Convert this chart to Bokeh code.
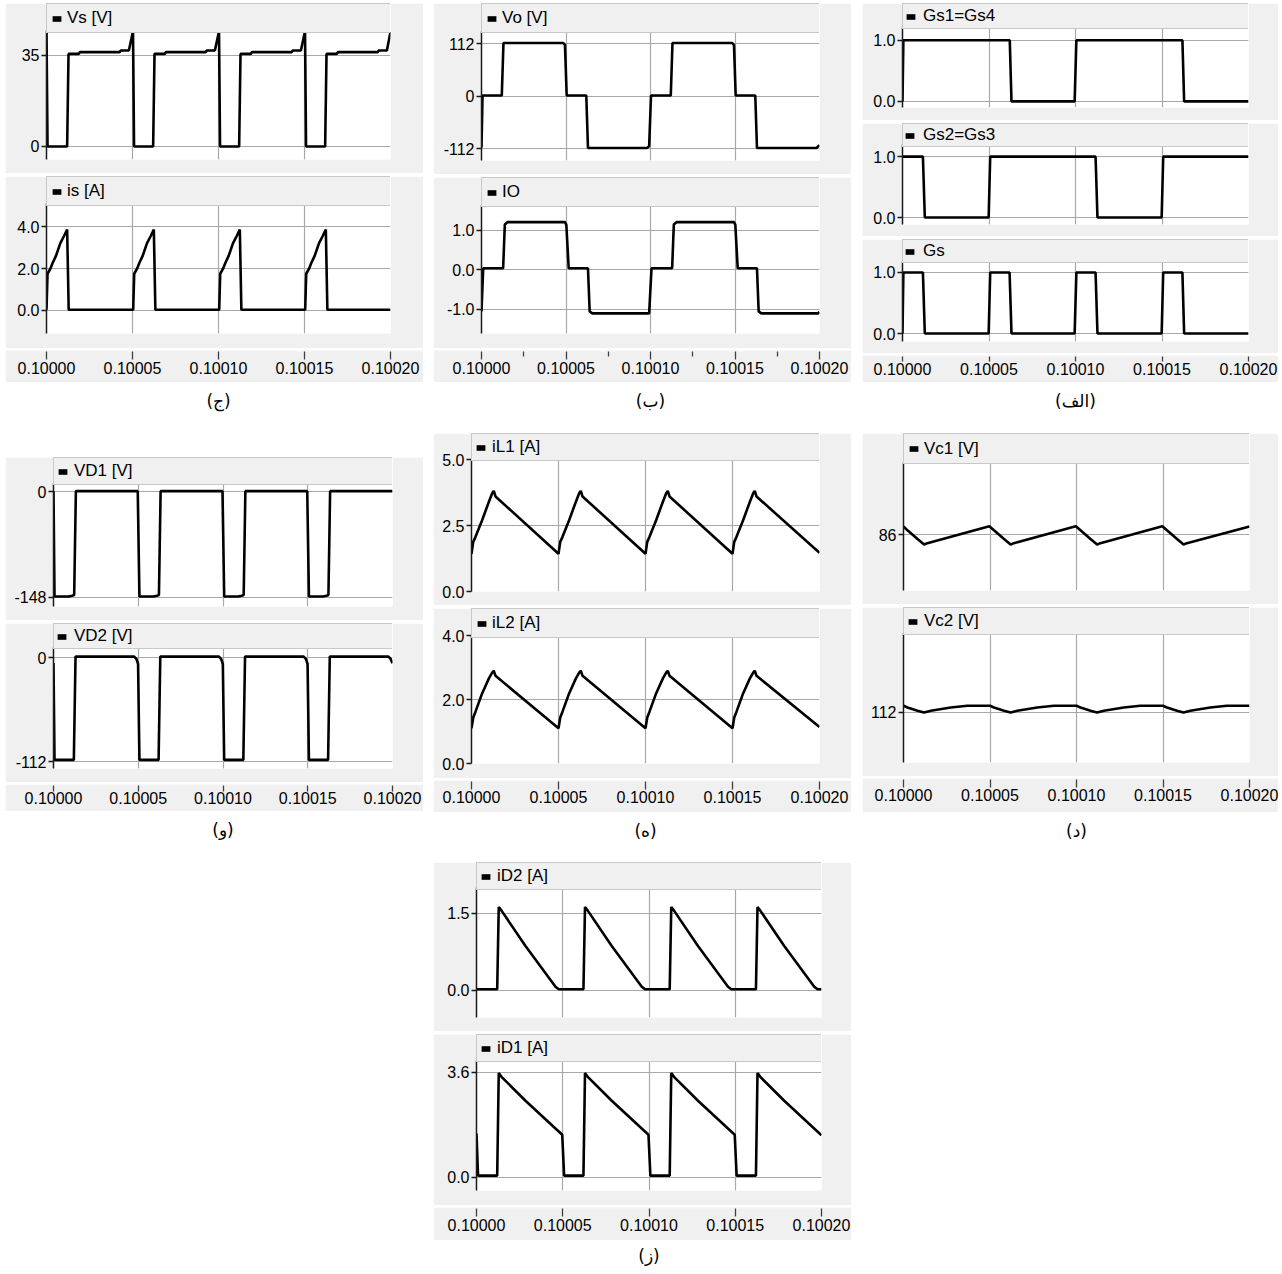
import numpy as np
from bokeh.plotting import figure
from bokeh.models import (Range1d, FixedTicker, Legend, LegendItem, Plot, Label, Spacer)
from bokeh.layouts import column, row
from bokeh.embed import file_html
from bokeh.resources import INLINE

# ---------------- data ----------------
T0 = 0.1  # seconds; all series times are microseconds after T0
x_ticks = [0.1, 0.10005, 0.1001, 0.10015, 0.1002]
x_tick_labels = ["0.10000", "0.10005", "0.10010", "0.10015", "0.10020"]
x_minor_ticks = [0.100025, 0.100075, 0.100125, 0.100175]

captions = ["(ج)", "(ب)", "(الف)", "(و)", "(ه)", "(د)", "(ز)"]

# (ج) input voltage / current
vs_t = [0, 0.6, 12.0, 12.8, 18.8, 19.4, 42.6, 43.2, 47.9, 50.3, 50.9,
        62.0, 62.8, 68.8, 69.4, 92.6, 93.2, 97.9, 100.3, 100.9,
        112.0, 112.8, 118.8, 119.4, 142.6, 143.2, 147.9, 150.3, 150.9,
        162.0, 162.8, 168.8, 169.4, 192.6, 193.2, 197.9, 200.0]
vs_v = [44.3, 0, 0, 35.6, 35.6, 36.3, 36.3, 36.9, 36.9, 44.3, 0,
        0, 35.6, 35.6, 36.3, 36.3, 36.9, 36.9, 44.3, 0,
        0, 35.6, 35.6, 36.3, 36.3, 36.9, 36.9, 44.3, 0,
        0, 35.6, 35.6, 36.3, 36.3, 36.9, 36.9, 44.0]
is_t = [0, 0.6, 2.3, 3.5, 5.5, 8.0, 10.2, 12.0, 12.9,
        50.4, 51.0, 52.7, 53.9, 55.9, 58.4, 60.6, 62.4, 63.3,
        100.4, 101.0, 102.7, 103.9, 105.9, 108.4, 110.6, 112.4, 113.3,
        150.4, 151.0, 152.7, 153.9, 155.9, 158.4, 160.6, 162.4, 163.3, 200.0]
is_v = [0.03, 1.75, 2.0, 2.25, 2.6, 3.2, 3.55, 3.86, 0.03,
        0.03, 1.75, 2.0, 2.25, 2.6, 3.2, 3.55, 3.86, 0.03,
        0.03, 1.75, 2.0, 2.25, 2.6, 3.2, 3.55, 3.86, 0.03,
        0.03, 1.75, 2.0, 2.25, 2.6, 3.2, 3.55, 3.86, 0.03, 0.03]

# (ب) output voltage / current
vo_t = [0, 0.6, 12.0, 13.0, 48.4, 49.4, 50.4, 62.0, 63.0, 98.0, 99.2, 100.3,
        112.0, 113.0, 148.4, 149.4, 150.4, 162.0, 163.0, 198.2, 200.0]
vo_v = [-110, 1, 1, 113, 113, 109, 1, 1, -111, -111, -107, 1,
        1, 113, 113, 109, 1, 1, -111, -111, -105]
io_t = [0, 1.0, 12.8, 13.8, 15.5, 49.4, 50.2, 51.6, 63.0, 64.0, 65.6, 99.2, 100.6,
        112.8, 113.8, 115.5, 149.4, 150.2, 151.6, 163.0, 164.0, 165.6, 199.2, 200.0]
io_v = [-1.05, 0.04, 0.04, 1.15, 1.21, 1.21, 1.14, 0.04, 0.04, -1.05, -1.1, -1.1, 0.04,
        0.04, 1.15, 1.21, 1.21, 1.14, 0.04, 0.04, -1.05, -1.1, -1.1, -1.06]

# (الف) gate signals
gs14_t = [0, 0.5, 62.0, 63.0, 99.5, 100.5, 161.8, 162.8, 200.0]
gs14_v = [0, 1, 1, 0, 0, 1, 1, 0, 0]
gs23_t = [0, 11.8, 12.9, 49.8, 50.7, 111.6, 112.7, 149.8, 150.7, 200.0]
gs23_v = [1, 1, 0, 0, 1, 1, 0, 0, 1, 1]
gs_t = [0, 0.5, 11.8, 12.9, 49.8, 50.7, 61.9, 63.0, 99.5, 100.5, 111.6, 112.7,
        149.8, 150.7, 161.8, 162.8, 200.0]
gs_v = [0, 1, 1, 0, 0, 1, 1, 0, 0, 1, 1, 0, 0, 1, 1, 0, 0]

# (و) diode voltages
vd1_t = [0, 0.6, 9.0, 11.0, 12.2, 13.2, 49.7, 50.7, 59.0, 61.0, 62.2, 63.2,
         99.7, 100.7, 109.0, 111.0, 112.2, 113.2, 149.7, 150.7, 159.0, 161.0, 162.2, 163.2, 200.0]
vd1_v = [0.5, -146.6, -146.6, -145.5, -144.5, 0.5, 0.5, -146.6, -146.6, -145.5, -144.5, 0.5,
         0.5, -146.6, -146.6, -145.5, -144.5, 0.5, 0.5, -146.6, -146.6, -145.5, -144.5, 0.5, 0.5]
vd2_t = [0, 0.6, 12.0, 13.0, 47.6, 48.9, 49.9, 50.7, 62.0, 63.0, 97.6, 98.9, 99.9, 100.7,
         112.0, 113.0, 147.6, 148.9, 149.9, 150.7, 162.0, 163.0, 197.6, 198.9, 200.0]
vd2_v = [-6, -110.2, -110.2, 1, 1, -1.5, -7, -110.2, -110.2, 1, 1, -1.5, -7, -110.2,
         -110.2, 1, 1, -1.5, -7, -110.2, -110.2, 1, 1, -1.5, -6]

# (ه) inductor currents
il_t = [0, 1.0, 2.3, 6.1, 10.0, 11.9, 12.8, 13.8,
        50.0, 51.0, 52.3, 56.1, 60.0, 61.9, 62.8, 63.8,
        100.0, 101.0, 102.3, 106.1, 110.0, 111.9, 112.8, 113.8,
        150.0, 151.0, 152.3, 156.1, 160.0, 161.9, 162.8, 163.8, 200.0]
il1_v = [1.43, 1.88, 2.07, 2.7, 3.4, 3.72, 3.81, 3.6,
         1.43, 1.88, 2.07, 2.7, 3.4, 3.72, 3.81, 3.6,
         1.43, 1.88, 2.07, 2.7, 3.4, 3.72, 3.81, 3.6,
         1.43, 1.88, 2.07, 2.7, 3.4, 3.72, 3.81, 3.6, 1.47]
il2_v = [1.1, 1.44, 1.62, 2.19, 2.66, 2.84, 2.9, 2.74,
         1.1, 1.44, 1.62, 2.19, 2.66, 2.84, 2.9, 2.74,
         1.1, 1.44, 1.62, 2.19, 2.66, 2.84, 2.9, 2.74,
         1.1, 1.44, 1.62, 2.19, 2.66, 2.84, 2.9, 2.74, 1.14]

# (د) capacitor voltages
vc1_t = [0, 2.3, 8.1, 11.9, 13.8, 49.6, 52.3, 58.1, 61.9, 63.8, 99.6, 102.3, 108.1, 111.9,
         113.8, 149.6, 152.3, 158.1, 161.9, 163.8, 200.0]
vc1_v = [86.25, 86.13, 85.86, 85.69, 85.73, 86.26, 86.13, 85.86, 85.69, 85.73, 86.26, 86.13,
         85.86, 85.69, 85.73, 86.26, 86.13, 85.86, 85.69, 85.73, 86.25]
vc2_t = [0, 2.3, 8.1, 11.9, 15.8, 27.3, 36.9, 50.0, 52.3, 58.1, 61.9, 65.8, 77.3, 86.9,
         100.0, 102.3, 108.1, 111.9, 115.8, 127.3, 136.9, 150.0, 152.3, 158.1, 161.9, 165.8,
         177.3, 186.9, 200.0]
vc2_v = [112.31, 112.23, 112.08, 112.0, 112.08, 112.23, 112.31,
         112.31, 112.23, 112.08, 112.0, 112.08, 112.23, 112.31,
         112.31, 112.23, 112.08, 112.0, 112.08, 112.23, 112.31,
         112.31, 112.23, 112.08, 112.0, 112.08, 112.23, 112.31, 112.31]

# (ز) diode currents
id2_t = [0, 12.0, 12.9, 14.5, 28.4, 45.8, 47.7,
         62.0, 62.9, 64.5, 78.4, 95.8, 97.7,
         112.0, 112.9, 114.5, 128.4, 145.8, 147.7,
         162.0, 162.9, 164.5, 178.4, 195.8, 197.7, 200.0]
id2_v = [0.02, 0.02, 1.62, 1.55, 0.86, 0.07, 0.02,
         0.02, 1.62, 1.55, 0.86, 0.07, 0.02,
         0.02, 1.62, 1.55, 0.86, 0.07, 0.02,
         0.02, 1.62, 1.55, 0.86, 0.07, 0.02, 0.02]
id1_t = [0, 0.9, 12.0, 12.9, 14.5, 28.4, 49.7, 50.8,
         62.0, 62.9, 64.5, 78.4, 99.7, 100.8,
         112.0, 112.9, 114.5, 128.4, 149.7, 150.8,
         162.0, 162.9, 164.5, 178.4, 200.0]
id1_v = [1.5, 0.06, 0.06, 3.58, 3.45, 2.63, 1.46, 0.06,
         0.06, 3.58, 3.45, 2.63, 1.46, 0.06,
         0.06, 3.58, 3.45, 2.63, 1.46, 0.06,
         0.06, 3.58, 3.45, 2.63, 1.44]

# ---------------- style ----------------
GRAY = "#f0f0f0"
GRID = "#a8a8a8"
EDGE = "#a0a0a0"
INK = "#1a1a1a"
FONT = "Liberation Sans"

x_range = Range1d(x_ticks[0], x_ticks[-1])


def tsec(us):
    return [T0 + u * 1e-6 for u in us]


def make_panel(spec, gw_total, left, right):
    (label, t_us, vals, ylo, yhi, yticks, ylabels, header, fh, bottom) = spec
    fw = gw_total - left - right
    # the header strip lives inside the frame, above the data area
    ytop = yhi + header * (yhi - ylo) / fh
    p = figure(width=gw_total, height=header + fh + bottom, x_range=x_range,
               y_range=Range1d(ylo, ytop), x_axis_location=None, title=None,
               toolbar_location=None, output_backend="svg",
               min_border_left=left, min_border_right=right,
               min_border_top=0, min_border_bottom=bottom,
               background_fill_color="white", border_fill_color=GRAY,
               outline_line_color=None)
    p.line(tsec(t_us), vals, line_color="black", line_width=2.6)

    icon = p.quad(left=np.array([np.nan]), right=np.array([np.nan]),
                  bottom=np.array([np.nan]), top=np.array([np.nan]),
                  fill_color="black", line_color=None)
    pad = max(0, min(4, (header - 19) // 2))
    gw = 11
    standoff = 20 - pad - gw
    leg = Legend(items=[LegendItem(label=label, renderers=[icon])],
                 location="top_left", orientation="horizontal", margin=0,
                 padding=pad, spacing=0, glyph_width=gw, glyph_height=7,
                 label_standoff=standoff, label_width=fw - 2 * pad - gw - standoff - 1,
                 label_height=header - 2 * pad,
                 label_text_font=FONT, label_text_font_size="17px",
                 label_text_color="black",
                 background_fill_color=GRAY, background_fill_alpha=1.0,
                 border_line_color=EDGE, border_line_width=1)
    p.add_layout(leg, "center")

    ax = p.yaxis[0]
    ax.bounds = (ylo, yhi)
    ax.ticker = FixedTicker(ticks=yticks)
    ax.major_label_overrides = {tk: lb for tk, lb in zip(yticks, ylabels)}
    ax.axis_line_color = INK
    ax.axis_line_width = 1.5
    ax.major_tick_line_color = INK
    ax.major_tick_line_width = 1.5
    ax.major_tick_out = 5
    ax.major_tick_in = 0
    ax.minor_tick_line_color = None
    ax.major_label_text_font = FONT
    ax.major_label_text_font_size = "16px"
    ax.major_label_text_color = "black"
    ax.major_label_standoff = 2

    p.ygrid.grid_line_color = GRID
    p.ygrid.grid_line_width = 1.2
    p.xgrid.ticker = FixedTicker(ticks=x_ticks)
    p.xgrid.grid_line_color = GRID
    p.xgrid.grid_line_width = 1.2
    return p


def make_sep(gw_total, white):
    return Plot(width=gw_total, height=1 + white, x_range=Range1d(0, 1), y_range=Range1d(0, 1),
                min_border_top=1, min_border_bottom=0, min_border_left=0, min_border_right=0,
                title=None, toolbar_location=None, output_backend="svg",
                border_fill_color=EDGE, background_fill_color="white",
                outline_line_color=None)


def make_axis(gw_total, left, right, h, tick_out, standoff, minor=False):
    p = figure(width=gw_total, height=h, x_range=x_range, y_range=Range1d(0, 1),
               y_axis_location=None, title=None, toolbar_location=None,
               output_backend="svg",
               min_border_left=left, min_border_right=right,
               min_border_top=0, min_border_bottom=h - 1,
               background_fill_color=GRAY, border_fill_color=GRAY,
               outline_line_color=None)
    p.grid.visible = False
    ax = p.xaxis[0]
    ax.ticker = FixedTicker(ticks=x_ticks, minor_ticks=x_minor_ticks if minor else [])
    ax.major_label_overrides = {tk: lb for tk, lb in zip(x_ticks, x_tick_labels)}
    ax.axis_line_color = None
    ax.major_tick_line_color = "#404040"
    ax.major_tick_line_width = 1.3
    ax.major_tick_out = tick_out
    ax.major_tick_in = 0
    ax.minor_tick_line_color = "#404040" if minor else None
    ax.minor_tick_line_width = 1.3
    ax.minor_tick_out = 5
    ax.minor_tick_in = 0
    ax.major_label_text_font = FONT
    ax.major_label_text_font_size = "16px"
    ax.major_label_text_color = "black"
    ax.major_label_standoff = standoff
    return p


def make_caption(gw_total, text, h, cy):
    p = Plot(width=gw_total, height=h, x_range=Range1d(0, 1), y_range=Range1d(0, h),
             min_border_top=0, min_border_bottom=0, min_border_left=0, min_border_right=0,
             title=None, toolbar_location=None, output_backend="svg",
             outline_line_color=None, background_fill_color="white",
             border_fill_color="white")
    p.add_layout(Label(x=0.5, y=h - cy, text=text, text_align="center",
                       text_baseline="middle", text_font="DejaVu Sans",
                       text_font_size="17px", text_color="black"))
    return p


def make_group(gw_total, left, fw, panels, axis_h, tick_out, standoff, caption, cap_h, cap_y,
               top_space=0, minor=False):
    right = gw_total - left - fw
    kids = []
    if top_space:
        kids.append(Spacer(width=gw_total, height=top_space))
    for i, spec in enumerate(panels):
        if i > 0:
            kids.append(make_sep(gw_total, 2))
        kids.append(make_panel(spec, gw_total, left, right))
    kids.append(make_sep(gw_total, 1))
    kids.append(make_axis(gw_total, left, right, axis_h, tick_out, standoff, minor))
    kids.append(make_caption(gw_total, caption, cap_h, cap_y))
    return column(*kids)


g_j = make_group(418, 41, 344, [
    ("Vs [V]", vs_t, vs_v, -5.0, 44.6, [0, 35], ["0", "35"], 27, 129, 14),
    ("is [A]", is_t, is_v, -1.1, 5.1, [0, 2, 4], ["0.0", "2.0", "4.0"], 27, 130, 15),
], 32, 8, 2, captions[0], 51, 18)

g_b = make_group(418, 48, 338, [
    ("Vo [V]", vo_t, vo_v, -137.6, 137.6, [-112, 0, 112], ["-112", "0", "112"], 28, 129, 14),
    ("IO", io_t, io_v, -1.61, 1.63, [-1, 0, 1], ["-1.0", "0.0", "1.0"], 28, 128, 15),
], 32, 8, 2, captions[1], 51, 18, minor=True)

g_a = make_group(416, 40, 346, [
    ("Gs1=Gs4", gs14_t, gs14_v, -0.1, 1.21, [0, 1], ["0.0", "1.0"], 24, 80, 13),
    ("Gs2=Gs3", gs23_t, gs23_v, -0.115, 1.2, [0, 1], ["0.0", "1.0"], 21, 80, 12),
    ("Gs", gs_t, gs_v, -0.13, 1.18, [0, 1], ["0.0", "1.0"], 22, 80, 12),
], 27, 5, 1, captions[2], 51, 18)

g_v = make_group(418, 48, 339, [
    ("VD1 [V]", vd1_t, vd1_v, -160.6, 11.2, [-148, 0], ["-148", "0"], 26, 123, 14),
    ("VD2 [V]", vd2_t, vd2_v, -119.5, 10.8, [-112, 0], ["-112", "0"], 24, 121, 14),
], 27, 6, 0, captions[3], 50, 18, top_space=24)

g_h = make_group(418, 38, 348, [
    ("iL1 [A]", il_t, il1_v, 0.0, 5.0, [0, 2.5, 5], ["0.0", "2.5", "5.0"], 26, 132, 14),
    ("iL2 [A]", il_t, il2_v, 0.0, 4.0, [0, 2, 4], ["0.0", "2.0", "4.0"], 27, 128, 15),
], 32, 8, 1, captions[4], 50, 18)

g_d = make_group(416, 41, 346, [
    ("Vc1 [V]", vc1_t, vc1_v, 84.25, 88.25, [86], ["86"], 29, 128, 14),
    ("Vc2 [V]", vc2_t, vc2_v, 109.67, 115.67, [112], ["112"], 26, 129, 14),
], 34, 8, 1, captions[5], 50, 18)

g_z = make_group(418, 43, 345, [
    ("iD2 [A]", id2_t, id2_v, -0.53, 2.0, [0, 1.5], ["0.0", "1.5"], 25, 130, 14),
    ("iD1 [A]", id1_t, id1_v, -0.45, 4.01, [0, 3.6], ["0.0", "3.6"], 26, 130, 15),
], 33, 8, 2, captions[6], 30, 15)

row1 = row(Spacer(width=5, height=10), g_j, Spacer(width=10, height=10), g_b,
           Spacer(width=11, height=10), g_a)
row2 = row(Spacer(width=5, height=10), g_v, Spacer(width=10, height=10), g_h,
           Spacer(width=11, height=10), g_d)
row3 = row(Spacer(width=433, height=10), g_z)
root = column(Spacer(width=10, height=3), row1, row2, row3)

open("out.html", "w").write(file_html(root, INLINE, "waveforms"))
